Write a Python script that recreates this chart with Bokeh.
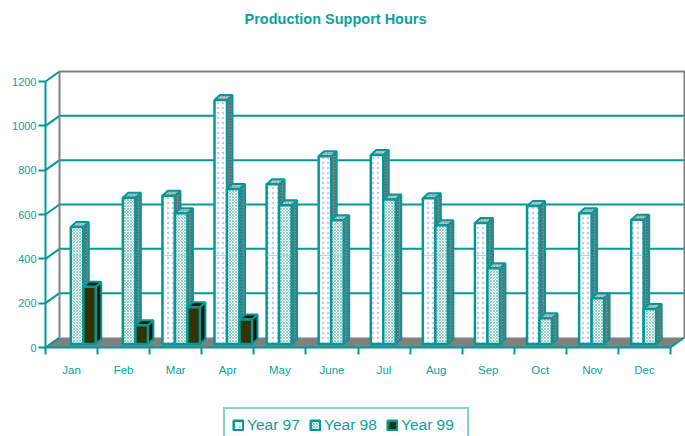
from bokeh.plotting import figure
from bokeh.models import Range1d, FixedTicker, Legend, LegendItem, Title
from bokeh.embed import file_html
from bokeh.resources import INLINE

months = ["Jan","Feb","Mar","Apr","May","June","Jul","Aug","Sep","Oct","Nov","Dec"]
year97 = [None,None,669,1101,721,847,853,658,546,622,590,560]
year98 = [528,660,590,699,626,558,652,536,342,116,206,158]
year99 = [258,85,166,111,None,None,None,None,None,None,None,None]
y_ticks = [0,200,400,600,800,1000,1200]
TEAL = "#009999"
TEXT = "#0c9f9f"
GREY = "#808080"

KX, KY = 625/12, 266/1200                   # px per data unit
DX, DY = 14/KX, 10/KY                       # wall depth in data units
BDX, BDY = 5.5/KX, 5/KY                     # bar depth in data units
BASE = 3.5/KY
OFF, W = 0.245, 0.24
TOP = 30

p = figure(width=685, height=436, output_backend="svg", toolbar_location=None,
           x_range=Range1d(-45/KX, 640/KX), y_range=Range1d(-(436-347)/KY, (347-TOP)/KY),
           min_border_left=0, min_border_right=0, min_border_top=TOP, min_border_bottom=0,
           outline_line_color=None, background_fill_color="white", margin=(0,0,0,0))
p.grid.visible = False
p.title = Title(text="Production Support Hours", text_color=TEXT, text_font="Liberation Sans",
                text_font_size="14.5px", text_font_style="bold", align="left", offset=244, standoff=8)

# floor
p.patch([0,DX,12+DX,12],[0,DY,DY,0], fill_color=GREY, line_color=None)
# walls' grid
for v in y_ticks[1:-1]:
    p.line([DX,12+DX],[v+DY,v+DY], line_color=TEAL, line_width=2)
for v in y_ticks:
    p.line([0,DX],[v,v+DY], line_color=TEAL, line_width=2)
p.line([DX,DX,12+DX,12+DX],[DY,1200+DY,1200+DY,DY], line_color=GREY, line_width=2)
p.line([12,12+DX],[0,DY], line_color=TEAL, line_width=2)

def series(vals, idx, front, fh, fs, fw, side, sh, top, th, hatch):
    xs = [i+OFF+W*idx for i,v in enumerate(vals) if v is not None]
    ys = [v+BASE for v in vals if v is not None]
    sx = [[x+W,x+W+BDX,x+W+BDX,x+W] for x in xs]
    sy = [[BASE,BASE+BDY,y+BDY,y] for y in ys]
    tx = [[x,x+BDX,x+W+BDX,x+W] for x in xs]
    ty = [[y,y+BDY,y+BDY,y] for y in ys]
    p.patches(sx, sy, fill_color=side, line_color=TEAL, line_width=2,
              hatch_pattern="dot" if hatch else None, hatch_color=sh, hatch_scale=3, hatch_weight=0.6)
    p.patches(tx, ty, fill_color=top, line_color=TEAL, line_width=2,
              hatch_pattern="dot" if hatch else None, hatch_color=th, hatch_scale=3, hatch_weight=0.6)
    r = p.quad(left=xs, right=[x+W for x in xs], bottom=[BASE]*len(xs), top=ys,
               fill_color=front, line_color=TEAL, line_width=2.5,
               hatch_pattern=hatch, hatch_color=fh or front, hatch_scale=fs, hatch_weight=fw)
    if hatch:   # the pale 400 line that shows across the light bars
        m = [x for x, y in zip(xs, ys) if y > 400 + BASE]
        p.segment(x0=[x+0.02 for x in m], x1=[x+W-0.02 for x in m], y0=[400+BASE]*len(m), y1=[400+BASE]*len(m),
                  line_color="#9fd3d3", line_width=1)
    return r

r97 = series(year97, 0, "white", "#c8c8ea", 5, 0.5, GREY, "#444444", "#aaaaaa", "#eeeeee", "dot")
r98 = series(year98, 1, "white", "#78c4be", 3, 0.8, GREY, "#444444", "#aaaaaa", "#eeeeee", "diagonal_cross")
r99 = series(year99, 2, "#333300", None, 3, 1, "#111100", "#000000", "#1a1a00", "#000000", None)

# axes
ya = p.yaxis[0]
ya.fixed_location = 0
ya.bounds = (0,1200)
ya.ticker = FixedTicker(ticks=y_ticks)
ya.minor_tick_line_color = None
ya.major_tick_in = 0; ya.major_tick_out = 7; ya.major_tick_line_color = TEAL; ya.major_tick_line_width = 2
ya.axis_line_color = TEAL; ya.axis_line_width = 2
ya.major_label_text_color = TEXT; ya.major_label_text_font = "Liberation Sans"; ya.major_label_text_font_size = "11px"
ya.major_label_standoff = 2

xa = p.xaxis[0]
xa.fixed_location = 0
xa.bounds = (0,12)
xa.ticker = FixedTicker(ticks=[i+0.5 for i in range(12)], minor_ticks=list(range(13)))
xa.major_label_overrides = {i+0.5:m for i,m in enumerate(months)}
xa.major_tick_line_color = None
xa.major_tick_out = 0; xa.major_tick_in = 0
xa.minor_tick_out = 7; xa.minor_tick_in = 0; xa.minor_tick_line_color = TEAL; xa.minor_tick_line_width = 2
xa.axis_line_color = TEAL; xa.axis_line_width = 2
xa.major_label_text_color = TEXT; xa.major_label_text_font = "Liberation Sans"; xa.major_label_text_font_size = "11.5px"
xa.major_label_standoff = 9

leg = Legend(items=[LegendItem(label="Year 97",renderers=[r97]),
                    LegendItem(label="Year 98",renderers=[r98]),
                    LegendItem(label="Year 99",renderers=[r99])],
             orientation="horizontal", location=(223,-7),
             label_text_color=TEXT, label_text_font="Liberation Sans", label_text_font_size="15.5px",
             glyph_width=12, glyph_height=12, border_line_color="#0aa5a5", border_line_width=2,
             background_fill_color="white", background_fill_alpha=1,
             padding=7, margin=0, spacing=3, label_standoff=3, label_height=16, label_width=59)
p.add_layout(leg, "center")

open("out.html","w").write(file_html(p, INLINE))
